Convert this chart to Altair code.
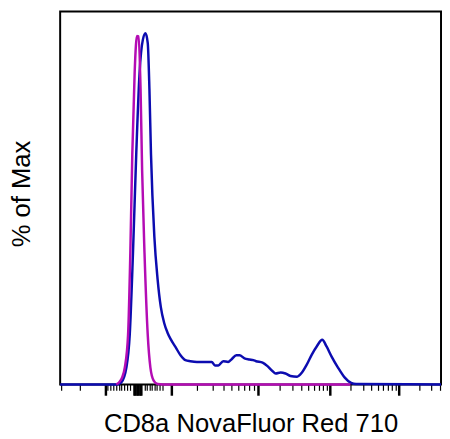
import altair as alt
import pandas as pd

# x in relative channel units (0..387 across the axis), y in % of max
iso_x = [57, 60, 63, 65.7, 69, 71.3, 73.3, 75.7, 77, 78, 79.7, 81.7, 83.3, 85.7, 89, 91.7, 95, 99, 104, 295]
iso_y = [0, 0.6, 2.0, 4.8, 14.1, 37.5, 65.5, 88.8, 96.6, 99.2, 99.1, 84.1, 60.8, 37.5, 14.1, 4.8, 1.1, 0.1, 0, 0]

cd8_x = [0, 57, 60.7, 62.3, 67.3, 70.7, 74, 77.3, 80.7, 84, 86.7, 89, 90.7, 92.3, 95.7, 99,
         102.3, 105.7, 109, 112.3, 117.3, 122.3, 127.3, 132.3, 139, 154, 157.3, 160.7, 165.7,
         170.7, 174, 179, 182.3, 187.3, 192.3, 196.3, 199, 205.7, 210.7, 215.7, 219, 224, 229,
         234, 240.7, 245.7, 250.7, 255.7, 260.7, 266.3, 270.7, 275.7, 282.3, 289, 295.7, 300.7, 387]
cd8_y = [0, 0, 0.3, 0.6, 4.8, 14.1, 37.5, 65.5, 88.8, 98.1, 100, 97.2, 84.1, 65.5, 42.1, 30.0,
         22.0, 17.5, 14.8, 12.9, 10.6, 8.3, 6.9, 6.6, 6.4, 6.4, 5.4, 5.4, 6.6,
         6.4, 7.1, 8.3, 8.3, 7.4, 7.1, 6.9, 6.6, 6.2, 5.2, 3.8, 3.1, 3.4, 3.1,
         2.4, 2.2, 3.4, 5.7, 8.5, 10.8, 12.7, 10.8, 8.0, 4.8, 2.0, 0.4, 0.1, 0]

major_ticks = [45.5, 74.5, 76, 77.5, 79, 80.5, 82, 113.3, 200.7, 274, 344]
minor_ticks = [0.7, 20, 48.3, 51.3, 54, 56.7, 59.7, 62.3, 65, 68, 71.3,
               85.7, 88, 90.7, 93.3, 95.7, 98.3, 101.3, 104,
               139, 154.7, 165.7, 174, 181, 187, 192, 196.5,
               223, 235.7, 244.5, 251.5, 257.5, 262.5, 266.7, 270.5,
               295, 307.5, 316, 322.8, 328.3, 333, 337, 340.6,
               365, 377, 385.5]

rows = []
for i, (x, y) in enumerate(zip(cd8_x, cd8_y)):
    rows.append({"ch": x, "pct": y, "sample": "CD8a", "order": i})
for i, (x, y) in enumerate(zip(iso_x, iso_y)):
    rows.append({"ch": x, "pct": y, "sample": "Isotype", "order": i})
df = pd.DataFrame(rows)

xscale = alt.Scale(domain=[0, 387], nice=False, zero=False)
yscale = alt.Scale(domain=[0, 106.2], nice=False, zero=True)
cscale = alt.Scale(domain=["CD8a", "Isotype"], range=["#0c0cb0", "#b40cb4"])

FONT = "Liberation Sans"

lines = alt.Chart(df).mark_line(strokeWidth=2.5, interpolate="monotone").encode(
    x=alt.X("ch:Q", scale=xscale,
            axis=alt.Axis(values=major_ticks, labels=False, tickSize=11, tickWidth=2.5,
                          tickColor="black", domain=False, grid=False, orient="bottom",
                          title="CD8a NovaFluor Red 710", titleFontSize=26, titleFont=FONT,
                          titleFontWeight="normal", titlePadding=15, titleColor="black")),
    y=alt.Y("pct:Q", scale=yscale,
            axis=alt.Axis(ticks=False, labels=False, domain=False, grid=False,
                          title="% of Max", titleFontSize=26, titleFont=FONT,
                          titleFontWeight="normal", titlePadding=26, titleColor="black",
                          titleY=185)),
    color=alt.Color("sample:N", scale=cscale, legend=None),
    order="order:Q",
)

minor = alt.Chart(pd.DataFrame({"t": minor_ticks})).mark_point(opacity=0).encode(
    x=alt.X("t:Q", scale=xscale,
            axis=alt.Axis(values=minor_ticks, labels=False, tickSize=6, tickWidth=1.2,
                          tickColor="black", domain=False, grid=False, orient="bottom",
                          title=None)),
)

chart = alt.layer(lines, minor).resolve_axis(x="independent").properties(
    width=387, height=379,
    padding={"left": 53, "top": 0, "right": 1, "bottom": 52},
    autosize=alt.AutoSizeParams(type="none"),
    background="white",
).configure_view(stroke="black", strokeWidth=2)

chart.save("out.html", embed_options={"renderer": "svg", "actions": False})
